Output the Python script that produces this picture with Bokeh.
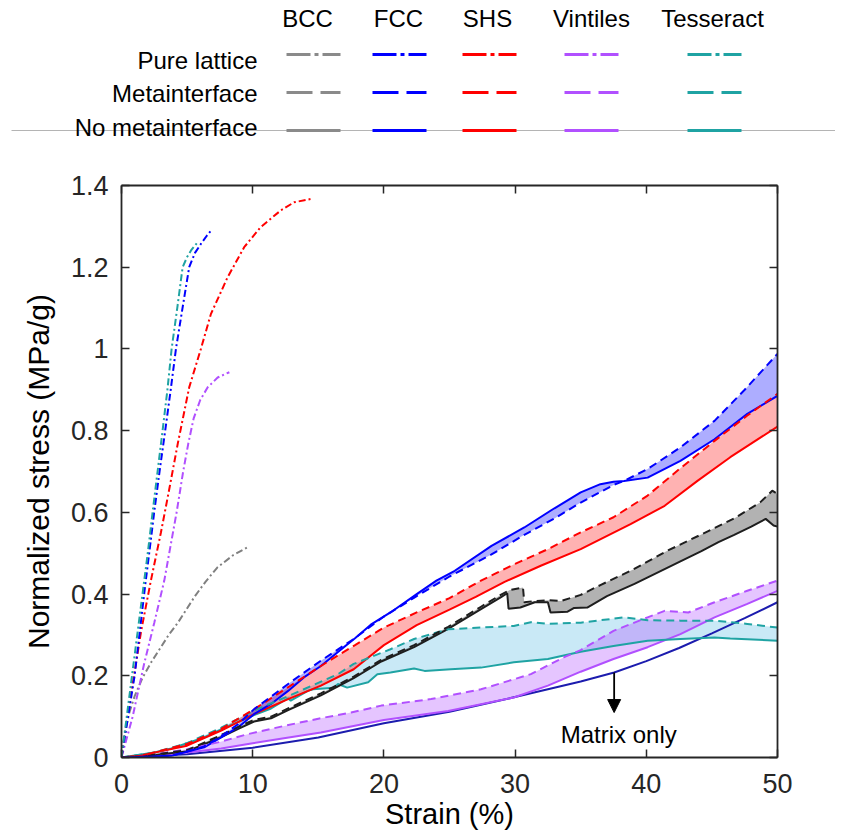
from bokeh.plotting import figure
from bokeh.models import Range1d, FixedTicker, LinearAxis, Arrow, NormalHead, Label
from bokeh.layouts import column
from bokeh.embed import file_html
from bokeh.resources import INLINE
from bokeh.core.properties import value

FONT = "Liberation Sans"

# ------------------------------------------------------------------ data
# Pure lattice (dash-dot)
bcc_pure_strain = [0, 0.2, 0.6, 1.0, 1.6, 2.3, 3.0, 3.6, 4.3, 4.9, 5.6, 6.4, 7.3, 8.5, 9.7]
bcc_pure_stress = [0, 0.05, 0.11, 0.15, 0.195, 0.235, 0.27, 0.3, 0.33, 0.36, 0.395, 0.43, 0.465, 0.495, 0.516]

fcc_pure_strain = [0, 0.5, 1.0, 1.4, 1.8, 2.15, 2.49, 2.9, 3.33, 3.75, 4.15, 4.65, 5.16, 5.6, 6.05, 6.5, 6.86]
fcc_pure_stress = [0, 0.1, 0.2, 0.31, 0.42, 0.51, 0.6, 0.7, 0.8, 0.9, 1.0, 1.1, 1.2, 1.235, 1.257, 1.277, 1.291]

shs_pure_strain = [0, 0.5, 1.0, 1.5, 2.24, 3.0, 3.6, 4.3, 5.16, 6.05, 6.81, 8.08, 9.35, 10.6, 12.14, 13.16, 14.43]
shs_pure_stress = [0, 0.11, 0.21, 0.31, 0.433, 0.55, 0.65, 0.77, 0.906, 1.0, 1.085, 1.175, 1.249, 1.298, 1.339, 1.359, 1.367]

vin_pure_strain = [0, 0.85, 1.73, 2.5, 3.26, 4.2, 4.7, 5.1, 5.5, 6.0, 6.57, 7.33, 8.22]
vin_pure_stress = [0, 0.1, 0.23, 0.33, 0.433, 0.6, 0.7, 0.77, 0.83, 0.875, 0.906, 0.93, 0.943]

tes_pure_strain = [0, 0.4, 0.8, 1.2, 1.6, 2.0, 2.37, 2.75, 3.13, 3.5, 3.82, 4.25, 4.66, 5.0, 5.3, 5.8]
tes_pure_stress = [0, 0.1, 0.2, 0.3, 0.4, 0.5, 0.6, 0.7, 0.8, 0.9, 1.0, 1.1, 1.2, 1.225, 1.241, 1.261]

# BCC composite (drawn black)
bcc_meta_strain = [0, 2, 5, 7.6, 8.9, 10.1, 11.4, 12.7, 15.2, 17.7, 19.8, 22.3, 24.9, 27.4, 28.9, 29.6,
                   30.6, 30.7, 31.5, 32.5, 33.5, 35, 36.5, 39, 41.6, 44, 46.7, 48.7, 49.6, 50]
bcc_meta_stress = [0, 0.005, 0.018, 0.055, 0.075, 0.092, 0.1, 0.12, 0.157, 0.198, 0.239, 0.275, 0.32, 0.369,
                   0.398, 0.41, 0.416, 0.38, 0.383, 0.385, 0.383, 0.398, 0.422, 0.46, 0.506, 0.543, 0.585,
                   0.625, 0.653, 0.645]
bcc_nometa_strain = [0, 2, 5, 7.6, 8.9, 10.1, 11.4, 12.7, 15.2, 17.7, 19.8, 22.3, 24.9, 27.4, 28.9, 29.4,
                     29.5, 30.4, 31.5, 32.5, 32.7, 34.0, 34.5, 35.5, 37, 39.1, 42.6, 44.2, 45.5, 46.7, 48,
                     49.1, 49.7, 50]
bcc_nometa_stress = [0, 0.004, 0.015, 0.05, 0.07, 0.088, 0.096, 0.116, 0.152, 0.194, 0.235, 0.27, 0.315,
                     0.363, 0.392, 0.402, 0.364, 0.367, 0.38, 0.38, 0.355, 0.357, 0.366, 0.367, 0.395, 0.425,
                     0.48, 0.505, 0.527, 0.545, 0.565, 0.584, 0.568, 0.565]

# FCC composite
fcc_meta_strain = [0, 3.8, 6.3, 7.6, 8.9, 10.1, 12.7, 15.2, 17.7, 20, 22.5, 25, 28.2, 30.7, 33, 35, 37.5,
                   38.3, 40.1, 42.6, 45.2, 47.5, 50]
fcc_meta_stress = [0, 0.004, 0.027, 0.052, 0.082, 0.118, 0.18, 0.237, 0.29, 0.345, 0.395, 0.443, 0.497,
                   0.545, 0.585, 0.624, 0.667, 0.677, 0.706, 0.759, 0.824, 0.9, 0.988]
fcc_nometa_strain = [0, 3.8, 6.3, 7.6, 8.9, 10.1, 11.4, 12.7, 13.9, 15.2, 16.5, 17.8, 19, 20.5, 22.5, 24,
                     25.4, 28.2, 30.7, 33, 35, 36.5, 37.5, 38.3, 40.1, 42.6, 45.2, 47.7, 50]
fcc_nometa_stress = [0, 0.004, 0.025, 0.049, 0.074, 0.106, 0.131, 0.163, 0.196, 0.224, 0.258, 0.292, 0.325,
                     0.355, 0.4, 0.433, 0.457, 0.518, 0.563, 0.61, 0.649, 0.669, 0.675, 0.677, 0.685, 0.726,
                     0.779, 0.841, 0.885]

# SHS composite
shs_meta_strain = [0, 1.5, 5, 7.6, 10.1, 12.7, 15.2, 16.5, 17.8, 20, 22.5, 25, 27.4, 30, 32.5, 35, 37.5,
                   40.1, 42.6, 45.2, 47.7, 50]
shs_meta_stress = [0, 0.004, 0.033, 0.07, 0.118, 0.172, 0.224, 0.25, 0.275, 0.318, 0.355, 0.39, 0.433,
                   0.474, 0.51, 0.551, 0.588, 0.641, 0.708, 0.775, 0.837, 0.89]
shs_nometa_strain = [0, 1.3, 5, 7.6, 10.1, 12.7, 15.2, 17.7, 20, 22.5, 25, 27, 29.2, 32, 35, 38.8, 41.4,
                     43.9, 46.4, 50]
shs_nometa_stress = [0, 0.004, 0.029, 0.066, 0.106, 0.143, 0.176, 0.216, 0.275, 0.324, 0.362, 0.393, 0.43,
                     0.47, 0.51, 0.571, 0.616, 0.677, 0.735, 0.81]

# Vintiles composite
vin_meta_strain = [0, 3, 5, 7.5, 9.6, 12.5, 15, 17.5, 19.8, 23.6, 27.4, 31.2, 33.7, 35, 37.5, 40.1, 41.4,
                   43.2, 45.2, 47.7, 50]
vin_meta_stress = [0, 0.01, 0.02, 0.038, 0.057, 0.078, 0.095, 0.11, 0.127, 0.143, 0.167, 0.204, 0.245,
                   0.263, 0.31, 0.343, 0.359, 0.355, 0.38, 0.408, 0.433]
vin_nometa_strain = [0, 3, 5, 7.6, 10, 12.5, 15.2, 17.5, 20, 24.9, 29.9, 32.5, 35, 37.5, 40.1, 42.6, 45.2,
                     47.7, 50]
vin_nometa_stress = [0, 0.006, 0.012, 0.022, 0.035, 0.048, 0.061, 0.076, 0.092, 0.114, 0.147, 0.176, 0.21,
                     0.241, 0.27, 0.302, 0.343, 0.376, 0.408]

# Tesseract composite
tes_meta_strain = [0, 2.5, 5, 7.6, 10.1, 12.7, 13.9, 16.5, 17.7, 20.5, 22.3, 24.9, 27.4, 29.9, 31.2, 32.5,
                   35, 38.3, 40.1, 42.6, 45.2, 47.7, 50]
tes_meta_stress = [0, 0.012, 0.035, 0.073, 0.115, 0.15, 0.167, 0.204, 0.229, 0.265, 0.29, 0.314, 0.318,
                   0.322, 0.331, 0.327, 0.33, 0.343, 0.336, 0.335, 0.335, 0.327, 0.318]
tes_nometa_strain = [0, 2.5, 3.8, 6.3, 7.6, 10.1, 11.4, 12.7, 12.9, 14.2, 14.6, 16.2, 16.5, 17.2, 18.8,
                     19.5, 20.5, 22.3, 23.1, 25.1, 27.4, 29.9, 32.5, 35, 37.5, 40.1, 42.6, 45.2, 46.4, 50]
tes_nometa_stress = [0, 0.012, 0.022, 0.049, 0.069, 0.104, 0.12, 0.145, 0.139, 0.163, 0.167, 0.171, 0.18,
                     0.171, 0.184, 0.204, 0.208, 0.218, 0.212, 0.216, 0.22, 0.233, 0.241, 0.259, 0.273,
                     0.286, 0.29, 0.294, 0.291, 0.286]

# Matrix only
matrix_strain = [0, 5, 10, 15, 20, 25, 30, 35, 37.55, 40, 42.5, 45, 47.5, 50]
matrix_stress = [0, 0.008, 0.024, 0.049, 0.084, 0.112, 0.148, 0.186, 0.208, 0.236, 0.268, 0.304, 0.341, 0.38]

x_ticks = [0, 10, 20, 30, 40, 50]
y_ticks = [0, 0.2, 0.4, 0.6, 0.8, 1.0, 1.2, 1.4]
y_tick_labels = ["0", "0.2", "0.4", "0.6", "0.8", "1", "1.2", "1.4"]

legend_columns = ["BCC", "FCC", "SHS", "Vintiles", "Tesseract"]
legend_rows = ["Pure lattice", "Metainterface", "No metainterface"]
matrix_label = "Matrix only"
matrix_arrow_index = 8          # point of the matrix curve where the arrow starts

# ------------------------------------------------------------------ styles
BCC_PURE = "#808080"
BCC_LINE = "#1e1e1e"
BCC_LEG = "#8a8a8a"
FCC_C = "#0000ff"
SHS_C = "#ff0000"
VIN_C = "#b150ff"
TES_C = "#1fa3a3"
TES_FILL = "#87ceeb"
MATRIX_C = "#1c1cae"
legend_colors = [BCC_LEG, FCC_C, SHS_C, VIN_C, TES_C]

DASHDOT = "7 3 2 3"
DASHED = "8 5"
LW = 2.0

W = 835
LEG_H = 160
MAIN_H = 678
BL, BR, BT, BB = 121, 58, 25, 81     # main frame: x 121..777, y 185..757 on the page


def no_align(fig):
    if "frame_align" in fig.properties():
        fig.frame_align = False


# ------------------------------------------------------------------ legend figure (pixel coordinates)
header_x = [307, 398, 487, 591, 712]
header_y = 18
sample_x = [313, 399, 489, 591, 714]
sample_half = 27
row_text_y = [60, 93, 127]
row_sample_y = [54, 92, 130]
row_text_right = 257
sep_y = 130
sep_x0 = 11

leg = figure(width=W, height=LEG_H, x_range=Range1d(0, W), y_range=Range1d(LEG_H, 0),
             output_backend="svg", toolbar_location=None, x_axis_type=None, y_axis_type=None,
             min_border=0, min_border_left=0, min_border_right=0, min_border_top=0, min_border_bottom=0)
leg.grid.visible = False
leg.outline_line_color = None
no_align(leg)

leg.segment(x0=[sep_x0], y0=[sep_y], x1=[W], y1=[sep_y], line_color="#b4b4b4", line_width=1)

leg.text(x=header_x, y=[header_y] * len(legend_columns), text=legend_columns,
         text_font=value(FONT), text_font_size="24px", text_align="center",
         text_baseline="middle", text_color="black")
leg.text(x=[row_text_right] * len(legend_rows), y=row_text_y, text=legend_rows,
         text_font=value(FONT), text_font_size="24px", text_align="right",
         text_baseline="middle", text_color="black")
for yy, dash in zip(row_sample_y, ["24 4 4 4", "26 8", "solid"]):
    leg.segment(x0=[c - sample_half for c in sample_x], y0=[yy] * len(sample_x),
                x1=[c + sample_half for c in sample_x], y1=[yy] * len(sample_x),
                line_color=legend_colors, line_width=3.2, line_dash=dash, line_cap="butt")

# ------------------------------------------------------------------ main figure
p = figure(width=W, height=MAIN_H, x_range=Range1d(0, 50), y_range=Range1d(0, 1.4),
           output_backend="svg", toolbar_location=None,
           min_border_left=BL, min_border_right=BR, min_border_top=BT, min_border_bottom=BB)
p.grid.visible = False
p.outline_line_color = None
no_align(p)

xax = p.below[0]
yax = p.left[0]
top_axis = LinearAxis()
right_axis = LinearAxis()
p.add_layout(top_axis, "above")
p.add_layout(right_axis, "right")

for ax in [xax, top_axis]:
    ax.ticker = FixedTicker(ticks=x_ticks)
for ax in [yax, right_axis]:
    ax.ticker = FixedTicker(ticks=y_ticks)
    ax.major_label_overrides = {t: s for t, s in zip(y_ticks, y_tick_labels)}

for ax in [xax, yax, top_axis, right_axis]:
    ax.major_tick_in = 8
    ax.major_tick_out = 0
    ax.minor_tick_line_color = None
    ax.axis_line_width = 1.8
    ax.axis_line_color = "#262626"
    ax.major_tick_line_width = 1.5
    ax.major_tick_line_color = "#262626"
    ax.major_label_text_font = FONT
    ax.major_label_text_font_size = "27px"
    ax.major_label_text_color = "#262626"
for ax in [top_axis, right_axis]:
    ax.major_label_text_font_size = "2px"
    ax.major_label_text_color = None
    ax.major_label_standoff = 0

xax.major_label_standoff = 16
yax.major_label_standoff = 13
xax.axis_label = "Strain (%)"
yax.axis_label = "Normalized stress (MPa/g)"
for ax in [xax, yax]:
    ax.axis_label_text_font = FONT
    ax.axis_label_text_font_style = "normal"
    ax.axis_label_text_color = "black"
xax.axis_label_text_font_size = "29px"
yax.axis_label_text_font_size = "30px"
xax.axis_label_standoff = 2
yax.axis_label_standoff = 13

# fills between metainterface and no-metainterface curves
def band(xm, ym, xn, yn, color, alpha):
    p.patch(xm + xn[::-1], ym + yn[::-1], fill_color=color, fill_alpha=alpha, line_color=None)

band(tes_meta_strain, tes_meta_stress, tes_nometa_strain, tes_nometa_stress, TES_FILL, 0.45)
band(vin_meta_strain, vin_meta_stress, vin_nometa_strain, vin_nometa_stress, VIN_C, 0.33)
band(bcc_meta_strain, bcc_meta_stress, bcc_nometa_strain, bcc_nometa_stress, "#000000", 0.3)
band(shs_meta_strain, shs_meta_stress, shs_nometa_strain, shs_nometa_stress, SHS_C, 0.3)
band(fcc_meta_strain, fcc_meta_stress, fcc_nometa_strain, fcc_nometa_stress, FCC_C, 0.32)

# pure lattice
for xs, ys, c in [(bcc_pure_strain, bcc_pure_stress, BCC_PURE),
                  (vin_pure_strain, vin_pure_stress, VIN_C),
                  (shs_pure_strain, shs_pure_stress, SHS_C),
                  (fcc_pure_strain, fcc_pure_stress, FCC_C),
                  (tes_pure_strain, tes_pure_stress, TES_C)]:
    p.line(xs, ys, line_color=c, line_width=LW, line_dash=DASHDOT)

# matrix only
p.line(matrix_strain, matrix_stress, line_color=MATRIX_C, line_width=LW)

# composites
for xs, ys, c in [(vin_nometa_strain, vin_nometa_stress, VIN_C),
                  (tes_nometa_strain, tes_nometa_stress, TES_C),
                  (bcc_nometa_strain, bcc_nometa_stress, BCC_LINE),
                  (shs_nometa_strain, shs_nometa_stress, SHS_C),
                  (fcc_nometa_strain, fcc_nometa_stress, FCC_C)]:
    p.line(xs, ys, line_color=c, line_width=LW)
for xs, ys, c in [(vin_meta_strain, vin_meta_stress, VIN_C),
                  (tes_meta_strain, tes_meta_stress, TES_C),
                  (bcc_meta_strain, bcc_meta_stress, BCC_LINE),
                  (shs_meta_strain, shs_meta_stress, SHS_C),
                  (fcc_meta_strain, fcc_meta_stress, FCC_C)]:
    p.line(xs, ys, line_color=c, line_width=LW, line_dash=DASHED)

# "Matrix only" annotation
arrow_x = matrix_strain[matrix_arrow_index]
arrow_y0 = matrix_stress[matrix_arrow_index]
arrow_tip_y = 0.11
label_y = 0.057
p.add_layout(Arrow(end=NormalHead(size=13, fill_color="black", line_color="black", line_width=1),
                   x_start=arrow_x, y_start=arrow_y0, x_end=arrow_x, y_end=arrow_tip_y,
                   line_color="black", line_width=1.8))
p.add_layout(Label(x=arrow_x + 0.35, y=label_y, text=matrix_label, text_align="center",
                   text_baseline="middle", text_font=FONT, text_font_size="24px", text_color="black"))

layout = column(leg, p, spacing=0)
open("out.html", "w").write(file_html(layout, INLINE))
